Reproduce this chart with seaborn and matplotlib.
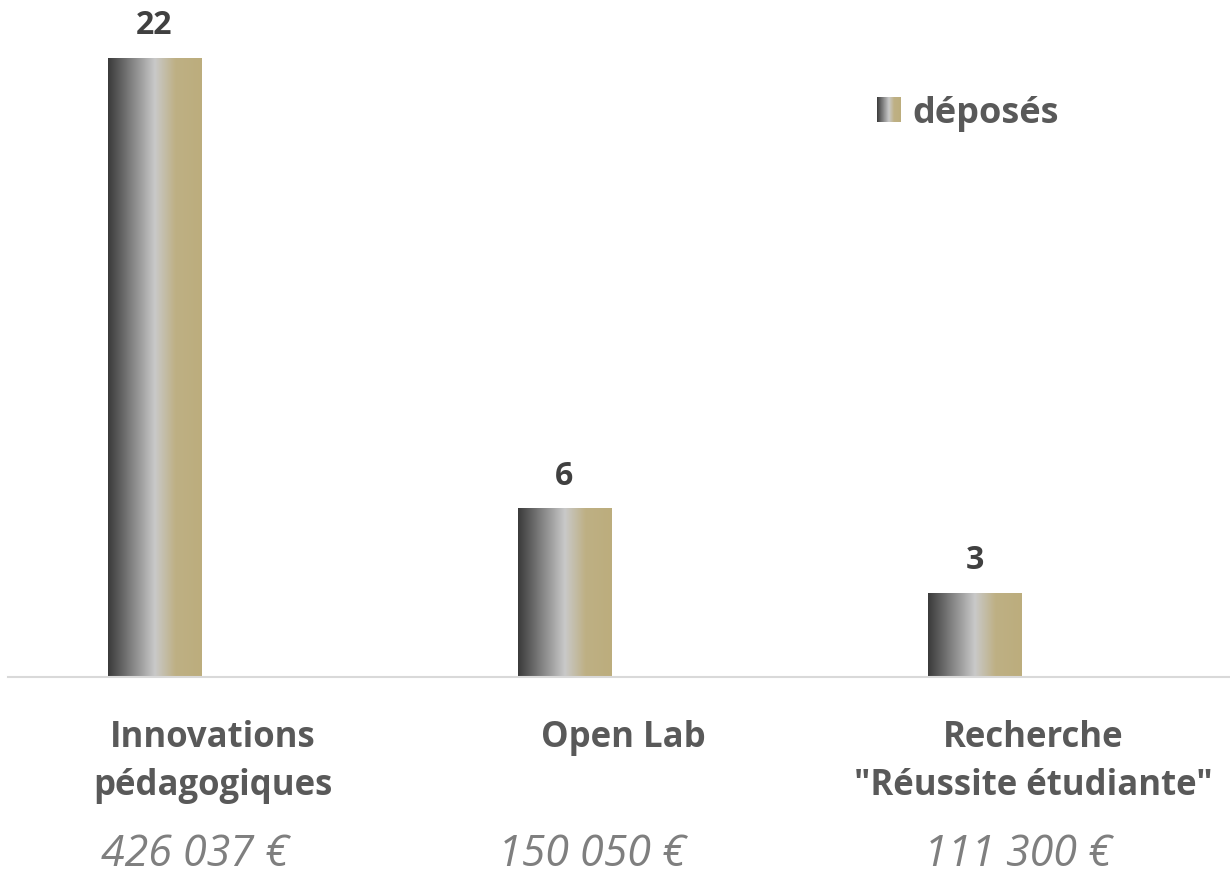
import numpy as np
import pandas as pd
import matplotlib
matplotlib.use("Agg")
import matplotlib.pyplot as plt
import matplotlib.transforms as mtransforms
import seaborn as sns
from matplotlib.colors import LinearSegmentedColormap
from matplotlib.patches import Rectangle
from matplotlib.legend_handler import HandlerBase

# ---- data ----
categories = ["Innovations\npédagogiques", "Open Lab", "Recherche\n\"Réussite étudiante\""]
deposes = [22, 6, 3]
montants = ["426 037 €", "150 050 €", "111 300 €"]
series_name = "déposés"

sns.set_theme(style="white")
plt.rcParams['font.family'] = ['Open Sans', 'DejaVu Sans']

W, H = 1230, 870
fig = plt.figure(figsize=(W / 100, H / 100), dpi=100)
ax = fig.add_axes([8 / W, 1 - 678 / H, (W - 8) / W, 678 / H])

df = pd.DataFrame({"cat": categories, "val": deposes})
sns.barplot(data=df, x="cat", y="val", ax=ax, width=0.227, color="#888888")

cmap = LinearSegmentedColormap.from_list(
    "grad", [(0.0, "#3a3a3a"), (0.5, "#c9c9c9"), (0.72, "#beb084"), (1.0, "#bcad7d")])
grad = np.linspace(0, 1, 256).reshape(1, -1)

dark = "#404040"
labgray = "#595959"
amtgray = "#7f7f7f"

for p in ax.patches:
    p.set_x(p.get_x() - 0.1427)
    x0, w, h = p.get_x(), p.get_width(), p.get_height()
    im = ax.imshow(grad, cmap=cmap, extent=[x0, x0 + w, 0, h], aspect='auto',
                   zorder=2, interpolation='bilinear')
    im.set_clip_path(p)
    p.set_facecolor('none')
    p.set_edgecolor('none')
    ax.text(x0 + w / 2, h + 1.17, f"{int(round(h))}", ha='center', va='center',
            fontsize=23, fontweight='bold', color=dark)

ax.set_xlim(-0.5, -0.5 + (W - 8) / 410)
ax.set_ylim(0, 678 / 28.14)
ax.set_yticks([])
ax.set_xlabel("")
ax.set_ylabel("")
for s in ["top", "right", "left"]:
    ax.spines[s].set_visible(False)
ax.spines["bottom"].set_color("#d9d9d9")
ax.spines["bottom"].set_linewidth(1.5)

ax.tick_params(axis='x', length=0, pad=30, labelsize=25, colors=labgray)
for lbl in ax.get_xticklabels():
    lbl.set_fontweight('bold')
    lbl.set_linespacing(1.45)

trans = mtransforms.blended_transform_factory(ax.transData, fig.transFigure)
amt_offsets = [-0.044, -0.076, -0.037]
for i, (m, off) in enumerate(zip(montants, amt_offsets)):
    ax.text(i + off, 1 - 866 / H, m, transform=trans, ha='center', va='baseline',
            fontsize=31, fontstyle='italic', color=amtgray)


class GradHandler(HandlerBase):
    def create_artists(self, legend, orig_handle, xdescent, ydescent, width,
                       height, fontsize, trans):
        n = 24
        arts = []
        for i in range(n):
            r = Rectangle((-xdescent + i * width / n, -ydescent), width / n * 1.1, height,
                          facecolor=cmap((i + 0.5) / n), edgecolor='none', transform=trans)
            arts.append(r)
        return arts


handle = Rectangle((0, 0), 1, 1)
leg = fig.legend([handle], [series_name], handler_map={Rectangle: GradHandler()},
                 loc='center left', bbox_to_anchor=(877 / W, 1 - 114 / H),
                 bbox_transform=fig.transFigure, frameon=False, borderpad=0,
                 borderaxespad=0, handlelength=0.67, handleheight=0.67,
                 handletextpad=0.3, prop={'weight': 'bold', 'size': 26})
for t in leg.get_texts():
    t.set_color(labgray)

fig.savefig("out.png", dpi=100)
